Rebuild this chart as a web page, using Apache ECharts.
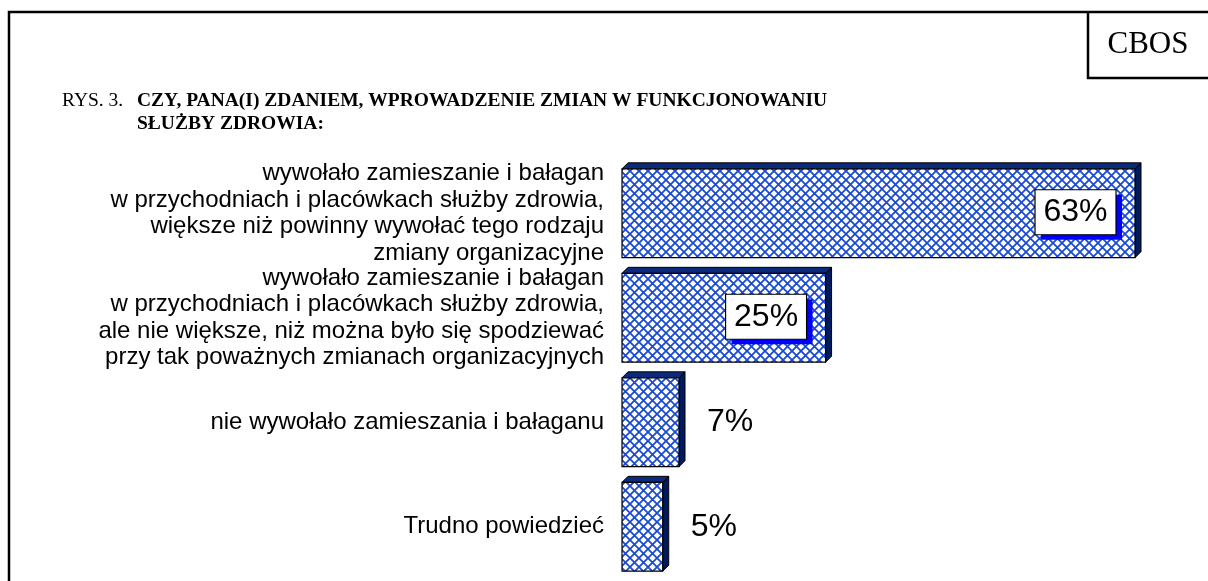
<!DOCTYPE html>
<html>
<head>
<meta charset="utf-8">
<script src="https://cdn.jsdelivr.net/npm/echarts@6/dist/echarts.min.js"></script>
<style>
    html, body { margin: 0; padding: 0; background: #fff; }
    #chart { width: 1208px; height: 581px; }
</style>
</head>
<body>
<div id="chart"></div>
<script>
    var categories = [
        'wywołało zamieszanie i bałagan\nw przychodniach i placówkach służby zdrowia,\nwiększe niż powinny wywołać tego rodzaju\nzmiany organizacyjne',
        'wywołało zamieszanie i bałagan\nw przychodniach i placówkach służby zdrowia,\nale nie większe, niż można było się spodziewać\nprzy tak poważnych zmianach organizacyjnych',
        'nie wywołało zamieszania i bałaganu',
        'Trudno powiedzieć'
    ];
    var values = [63, 25, 7, 5];

    // kratka niebieska do wypełnienia słupków
    function hatchPattern() {
        var s = 9;
        var c = document.createElement('canvas');
        c.width = s;
        c.height = s;
        var g = c.getContext('2d');
        g.fillStyle = '#ffffff';
        g.fillRect(0, 0, s, s);
        g.strokeStyle = '#1a4bd2';
        g.lineWidth = 1.8;
        [-s, 0, s].forEach(function (k) {
            g.beginPath();
            g.moveTo(k, 0);
            g.lineTo(k + s, s);
            g.moveTo(k + s, 0);
            g.lineTo(k, s);
            g.stroke();
        });
        return c;
    }
    var hatch = hatchPattern();

    function renderBar(params, api) {
        var v = api.value(0);
        var start = api.coord([0, api.value(1)]);
        var end = api.coord([v, api.value(1)]);
        var band = api.size([0, 1])[1];
        var h = band * 0.85;
        var d = 6;
        var x0 = start[0], x1 = end[0], yc = start[1];
        var top = yc - h / 2, bot = yc + h / 2;
        var children = [
            {
                type: 'polygon',
                shape: {points: [[x0, top], [x0 + d, top - d], [x1 + d, top - d], [x1, top]]},
                style: {fill: '#0c2a7c', stroke: '#000', lineWidth: 1}
            },
            {
                type: 'polygon',
                shape: {points: [[x1, top], [x1 + d, top - d], [x1 + d, bot - d], [x1, bot]]},
                style: {fill: '#001a5e', stroke: '#000', lineWidth: 1}
            },
            {
                type: 'rect',
                shape: {x: x0, y: top, width: x1 - x0, height: h},
                style: {fill: {image: hatch, repeat: 'repeat'}, stroke: '#000', lineWidth: 1.2}
            }
        ];
        var txt = v + '%';
        if (x1 - x0 > 120) {
            var bw = 81, bh = 45;
            var bx = x1 - 19 - bw, by = yc - 1 - bh / 2;
            children.push({
                type: 'rect',
                shape: {x: bx + 6, y: by + 5, width: bw, height: bh},
                style: {fill: '#0000ff'}
            });
            children.push({
                type: 'rect',
                shape: {x: bx, y: by, width: bw, height: bh},
                style: {fill: '#fff', stroke: '#000', lineWidth: 1.2}
            });
            children.push({
                type: 'text',
                style: {
                    x: bx + bw / 2, y: by + bh / 2, text: txt,
                    align: 'center', verticalAlign: 'middle',
                    fontSize: 32, fontFamily: 'Liberation Sans, Arial', fill: '#000'
                }
            });
        } else {
            children.push({
                type: 'text',
                style: {
                    x: x1 + 28, y: yc, text: txt,
                    align: 'left', verticalAlign: 'middle',
                    fontSize: 32, fontFamily: 'Liberation Sans, Arial', fill: '#000'
                }
            });
        }
        return {type: 'group', children: children};
    }

    var chart = echarts.init(document.getElementById('chart'));
    var option = {
        backgroundColor: '#fff',
        animation: false,
        grid: {left: 622, right: 16, top: 161, bottom: 2, containLabel: false},
        xAxis: {
            type: 'value',
            min: 0,
            max: 70,
            show: false
        },
        yAxis: {
            type: 'category',
            inverse: true,
            data: categories,
            axisLine: {show: false},
            axisTick: {show: false},
            splitLine: {show: false},
            axisLabel: {
                interval: 0,
                hideOverlap: false,
                margin: 18,
                align: 'right',
                color: '#000',
                fontSize: 24,
                lineHeight: 26.5,
                fontFamily: 'Liberation Sans, Arial'
            }
        },
        series: [
            {
                type: 'custom',
                renderItem: renderBar,
                encode: {x: 0, y: 1},
                data: values.map(function (v, i) { return [v, i]; })
            }
        ],
        graphic: [
            {
                type: 'polyline',
                shape: {points: [[9, 700], [9, 12], [1208, 12]]},
                style: {fill: 'none', stroke: '#000', lineWidth: 2.5},
                silent: true
            },
            {
                type: 'polyline',
                shape: {points: [[1088, 12], [1088, 78], [1208, 78]]},
                style: {fill: 'none', stroke: '#000', lineWidth: 2.5},
                silent: true
            },
            {
                type: 'text',
                x: 1148, y: 45,
                style: {
                    text: 'CBOS', align: 'center', verticalAlign: 'middle',
                    fontSize: 31, fontFamily: 'Liberation Serif, Times New Roman', fill: '#000'
                }
            },
            {
                type: 'text',
                x: 62, y: 101,
                style: {
                    text: 'RYS. 3.', align: 'left', verticalAlign: 'middle',
                    fontSize: 19.5, fontFamily: 'Liberation Serif, Times New Roman', fill: '#000'
                }
            },
            {
                type: 'text',
                x: 137, y: 101,
                style: {
                    text: 'CZY, PANA(I) ZDANIEM, WPROWADZENIE ZMIAN W FUNKCJONOWANIU',
                    align: 'left', verticalAlign: 'middle', fontWeight: 'bold',
                    fontSize: 19.5, fontFamily: 'Liberation Serif, Times New Roman', fill: '#000'
                }
            },
            {
                type: 'text',
                x: 137, y: 124,
                style: {
                    text: 'SŁUŻBY ZDROWIA:',
                    align: 'left', verticalAlign: 'middle', fontWeight: 'bold',
                    fontSize: 19.5, fontFamily: 'Liberation Serif, Times New Roman', fill: '#000'
                }
            }
        ]
    };
    chart.setOption(option);
    window.addEventListener('resize', function () {
        chart.resize();
    });
</script>
</body>
</html>
